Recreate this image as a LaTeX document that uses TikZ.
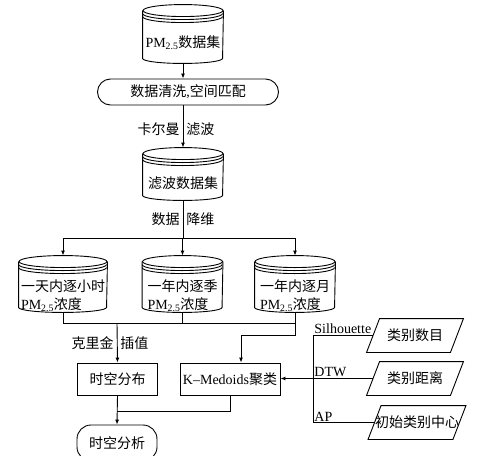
\documentclass[tikz,border=0pt]{standalone}
\usepackage{fontspec}
\setmainfont{Noto Sans CJK SC}
\newfontfamily\lat{Liberation Serif}
\usetikzlibrary{arrows.meta,calc,positioning}
\newcommand{\pmc}{{\lat PM\textsubscript{2.5}}}

\begin{document}
\begin{tikzpicture}[x=1pt,y=-1pt,line width=0.9pt,
    >={Latex[length=5pt,width=4pt]},
    font=\fontsize{14}{18}\selectfont,
    drum/.style={inner sep=0pt,minimum width=80pt,minimum height=56pt},
    box/.style={draw,inner sep=2pt,minimum width=80pt,minimum height=32pt},
    roundbox/.style={draw,rounded corners=13pt,minimum height=26pt},
    pgram/.style={inner sep=0pt,minimum width=83pt,minimum height=33pt},
    tag/.style={inner sep=1pt}]
  \useasboundingbox (0,0) rectangle (487,474);

  % data sets
  \node[drum,minimum height=58pt,label={[yshift=-9pt]center:\pmc 数据集}] (raw) at (183,34) {};
  \node[roundbox,minimum width=181pt] (clean) at (188,92) {数据清洗{\lat ,}空间匹配};
  \node[drum,minimum height=52pt,label={[yshift=-9pt]center:滤波数据集}] (filt) at (183,174) {};
  \node[drum,minimum width=88pt,label={[yshift=-12pt,align=left]center:{一天内逐小时\\\pmc 浓度}}] (day) at (63,284) {};
  \node[drum,label={[yshift=-12pt,align=left]center:{一年内逐季\\\pmc 浓度}}] (season) at (182.5,284) {};
  \node[drum,label={[yshift=-12pt,align=left]center:{一年内逐月\\\pmc 浓度}}] (month) at (295,284) {};

  % cylinder outlines
  \foreach \n/\r in {raw/40,filt/40,day/44,season/40,month/40}{
    \draw ($(\n.north west)+(0pt,-6pt)$) -- ($(\n.south west)+(0pt,5pt)$)
      arc[start angle=180,end angle=360,x radius=\r pt,y radius=5pt]
      -- ($(\n.north east)+(0pt,-6pt)$);
    \draw ($(\n.north)+(0pt,-6pt)$) ellipse[x radius=\r pt,y radius=6pt];
    \foreach \d in {9,12}
      \draw ($(\n.north west)+(0pt,-\d pt)$)
        arc[start angle=180,end angle=360,x radius=\r pt,y radius=6pt];
  }

  % main chain
  \draw[->] (raw.south) -- (raw.south |- clean.north);
  \draw[->] (filt.north |- clean.south) -- (filt.north);
  \node[tag,anchor=east] (kal) at (181,129) {卡尔曼};
  \node[tag,anchor=west] (wave) at (185,129) {滤波};

  % split into three series
  \coordinate (split) at (183,238);
  \draw (filt.south) -- (split);
  \draw (day.north |- split) -- (month.north |- split);
  \foreach \n in {day,season,month}
    \draw[->] (\n.north |- split) -- (\n.north);
  \node[tag,anchor=east] (dat) at (181,219) {数据};
  \node[tag,anchor=west] (dim) at (185,219) {降维};

  % analysis boxes
  \node[box] (dist) at (117.5,379) {时空分布};
  \node[box,minimum width=100pt] (kmed) at (230,379) {{\lat K–Medoids}聚类};
  \begin{scope}
    \clip (0,0) rectangle (487,455);
    \node[draw,rounded corners=14pt,minimum width=80pt,minimum height=36pt] (ana) at (117,443) {时空分析};
  \end{scope}

  % merge below the series
  \coordinate (merge) at (117,323);
  \coordinate (kin) at (241,335);
  \draw (day.south) |- (month.south |- merge) -- (month.south);
  \draw (season.south) -- (season.south |- merge);
  \draw[->] (merge) -- (dist.north);
  \draw[->] (month.south) |- (kin) -- (kin |- kmed.north);
  \node[tag,anchor=east] (kri) at (115,343) {克里金};
  \node[tag,anchor=west] (itp) at (119,343) {插值};

  \coordinate (join) at (117,411);
  \draw (kmed.south) |- (join);
  \draw[->] (dist.south) -- (ana.north);

  % clustering inputs
  \node[pgram] (cnt) at (415,335.5) {类别数目};
  \node[pgram] (met) at (415,378.5) {类别距离};
  \node[pgram] (ini) at (417,422.5) {初始类别中心};
  \foreach \n in {cnt,met,ini}
    \draw ($(\n.north west)+(6.5pt,0pt)$) -- ($(\n.north east)+(6.5pt,0pt)$)
      -- ($(\n.south east)+(-6.5pt,0pt)$) -- ($(\n.south west)+(-6.5pt,0pt)$) -- cycle;

  \coordinate (bus) at (313,0);
  \draw (cnt.west) -- (cnt.west -| bus) -- (ini.west -| bus) -- (ini.west);
  \draw[->] (met.west) -- (met.west -| kmed.east);
  \node[tag,anchor=south west] (sil) at (cnt.west -| bus) {\lat Silhouette};
  \node[tag,anchor=south west] (dtw) at (met.west -| bus) {\lat DTW};
  \node[tag,anchor=south west] (ap) at (ini.west -| bus) {\lat AP};
\end{tikzpicture}
\end{document}
